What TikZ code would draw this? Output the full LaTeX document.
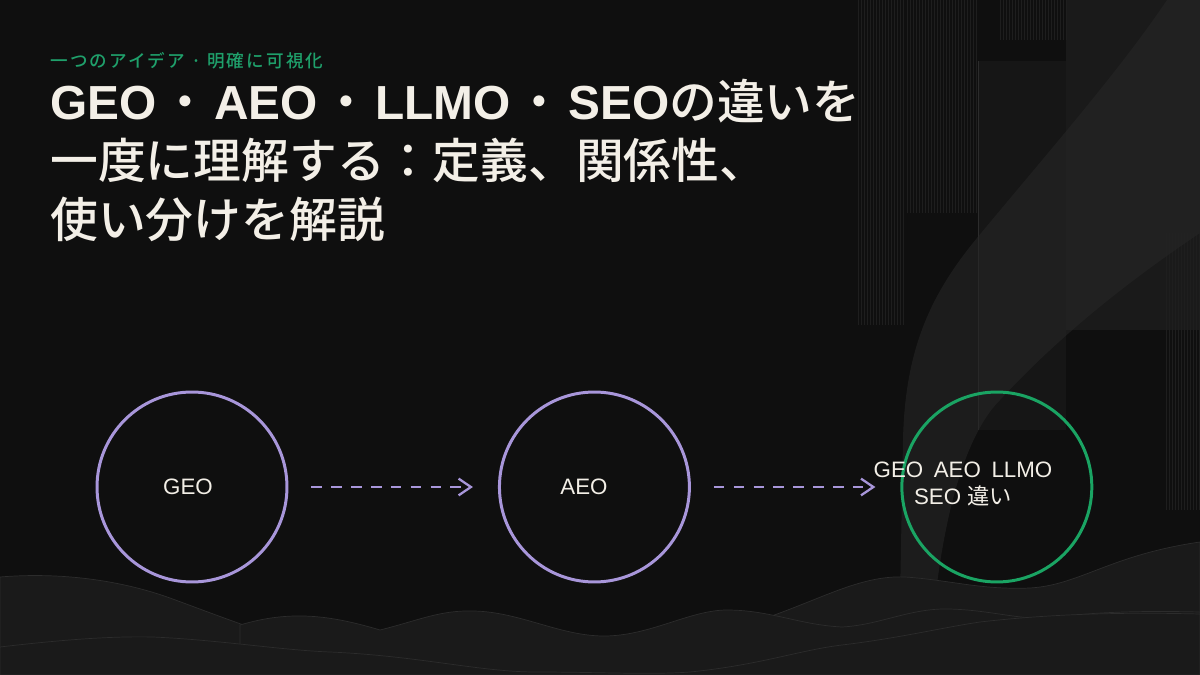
\documentclass[tikz,border=0pt]{standalone}
\usepackage{fontspec}
\setmainfont{Liberation Sans}
\newfontfamily\jp{Noto Sans CJK JP}
\newfontfamily\jpmid{Noto Sans CJK JP Medium}[BoldFont={Noto Sans CJK JP Medium}]
\newfontfamily\jpsub[LetterSpace=12]{Noto Sans CJK JP Medium}
\newcommand\tdot{\hspace{2.8pt}{\jpmid ・}\hspace{2.8pt}}
\newcommand\wgap{\hspace{6pt}}
\usetikzlibrary{arrows.meta}

\definecolor{bgdark}{HTML}{0F0F0F}
\definecolor{cream}{HTML}{F3EFE7}
\definecolor{mint}{HTML}{1FA06B}
\definecolor{lavender}{HTML}{A896DA}
\definecolor{leaf}{HTML}{1AA463}
\definecolor{stripeline}{HTML}{1E1E1E}
\definecolor{panelgrey}{HTML}{161616}
\definecolor{sidepanel}{HTML}{1A1A1A}
\definecolor{swooshgrey}{HTML}{262626}
\definecolor{wavefill}{HTML}{1A1A1A}
\definecolor{waveedge}{HTML}{2C2C2C}

\tikzset{
  stripe/.style={stripeline,line width=0.4pt},
  wavelayer/.style={fill=wavefill,draw=waveedge,line width=0.4pt},
  titleline/.style={anchor=base west,inner sep=0,text=cream,font=\fontsize{27.2}{33}\selectfont\bfseries},
  stage/.style={circle,draw=lavender,line width=1.7pt,minimum size=3.8cm,inner sep=0},
  stagetext/.style={text=cream,font=\fontsize{12.7}{15.9}\selectfont,align=center,inner sep=0},
  flow/.style={lavender,line width=1.3pt,dash pattern=on 6pt off 5.3pt,-{Straight Barb[length=7pt,width=9.5pt]},shorten <=0.46cm,shorten >=0.5cm}
}

\begin{document}
\begin{tikzpicture}[x=0.02cm,y=-0.02cm,node distance=8.05cm]
\useasboundingbox (0,0) rectangle (1200,675);
\fill[bgdark] (0,0) rectangle (1200,675);

% backdrop on the right
\fill[panelgrey] (978,61) rectangle (1066,430);
\draw[waveedge,line width=0.4pt] (978,61) -- (978,430);
\fill[sidepanel] (1066,0) rectangle (1200,330);
\foreach \sx in {858,861,...,904} \draw[stripe] (\sx,0) -- (\sx,325);
\foreach \sx in {907,910,...,976} \draw[stripe] (\sx,0) -- (\sx,213);
\foreach \sx in {1000,1003,...,1066} \draw[stripe] (\sx,0) -- (\sx,40);
\foreach \sx in {1166,1169,...,1200} \draw[stripe] (\sx,233) -- (\sx,510);
\fill[swooshgrey,opacity=0.6] (1167,0) .. controls (1120,70) and (1050,150) .. (977,238)
  .. controls (930,295) and (905,350) .. (903,440) -- (900,600) -- (935,600)
  .. controls (950,470) and (980,420) .. (1000,400)
  .. controls (1060,335) and (1130,280) .. (1200,233) -- (1200,0) -- cycle;

% waves along the bottom
\filldraw[wavelayer] (0,577) .. controls (60,572) and (120,580) .. (170,598)
  .. controls (230,620) and (280,640) .. (330,650) -- (330,675) -- (0,675) -- cycle;
\filldraw[wavelayer] (760,620) .. controls (820,600) and (860,575) .. (905,577)
  .. controls (950,580) and (980,590) .. (1030,588)
  .. controls (1080,585) and (1110,555) .. (1200,542) -- (1200,675) -- (760,675) -- cycle;
\filldraw[wavelayer] (240,625) .. controls (290,610) and (330,615) .. (380,630)
  .. controls (420,620) and (440,610) .. (474,611)
  .. controls (520,612) and (560,636) .. (604,636)
  .. controls (650,636) and (690,610) .. (727,610)
  .. controls (770,610) and (800,625) .. (842,627)
  .. controls (880,625) and (910,608) .. (949,609)
  .. controls (990,610) and (1020,620) .. (1048,618)
  .. controls (1080,614) and (1120,610) .. (1200,612) -- (1200,675) -- (240,675) -- cycle;
\filldraw[wavelayer] (0,647) .. controls (60,640) and (110,636) .. (153,637)
  .. controls (220,640) and (280,650) .. (330,652)
  .. controls (420,656) and (480,672) .. (536,672)
  .. controls (600,672) and (650,675) .. (690,672)
  .. controls (760,665) and (800,650) .. (842,645)
  .. controls (900,638) and (940,628) .. (980,622)
  .. controls (1050,614) and (1120,612) .. (1200,614) -- (1200,675) -- (0,675) -- cycle;

% heading
\node[anchor=base west,inner sep=0,text=mint,font=\fontsize{10}{12}\selectfont\jpsub] (kicker) at (50,68) {一つのアイデア · 明確に可視化};
\node[titleline] (head1) at (50,120) {GEO\tdot AEO\tdot LLMO\tdot SEO{\jpmid の違いを}};
\node[titleline] (head2) at (50,179) {\jpmid 一度に理解する：定義、関係性、};
\node[titleline] (head3) at (50,238) {\jpmid 使い分けを解説};

% the three stages
\node[stage] (geo) at (192,487) {};
\node[stage,right of=geo] (aeo) {};
\node[stage,draw=leaf,right of=aeo] (all) {};

\node[stagetext] (geotext) at (188,487) {GEO};
\node[stagetext] (aeotext) at (584,487) {AEO};
\node[stagetext] (alltext) at (963,484) {GEO\wgap AEO\wgap LLMO\\SEO {\jp 違い}};

\draw[flow] (geo) -- (aeo);
\draw[flow] (aeo) -- (all);
\end{tikzpicture}
\end{document}
